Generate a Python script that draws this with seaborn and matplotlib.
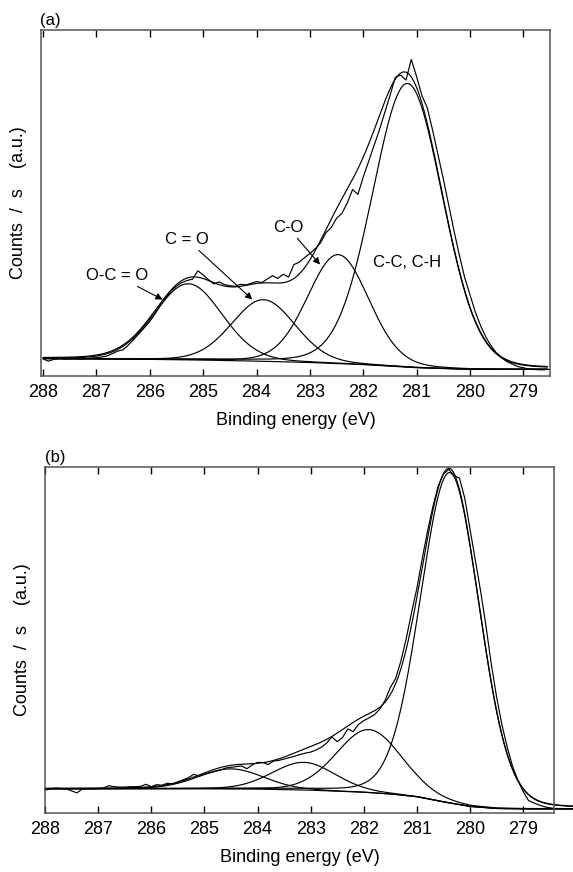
import numpy as np
import pandas as pd
import matplotlib
matplotlib.use("Agg")
import matplotlib.pyplot as plt
import seaborn as sns

sns.set_style("white")
plt.rcParams['font.family'] = ['Liberation Sans', 'DejaVu Sans']
plt.rcParams['text.color'] = 'black'
plt.rcParams['axes.labelcolor'] = 'black'
plt.rcParams['xtick.color'] = 'black'

# ---------------- data: panel (a) ----------------
raw_energy_a = np.round(np.arange(288.0, 278.55, -0.1), 2)
raw_counts_a = [
    4.9, 4.3, 4.8, 5.0, 4.9, 4.9, 5.0, 4.9, 5.0, 5.2,
    5.3, 5.5, 5.8, 6.5, 7.2, 7.6, 9.0, 10.6, 12.3, 14.0,
    15.8, 18.0, 20.4, 22.6, 24.6, 26.0, 27.0, 27.6, 28.0, 30.4,
    29.2, 27.8, 26.6, 27.2, 26.4, 26.1, 25.9, 26.5, 26.3, 26.8,
    27.3, 27.0, 28.0, 29.0, 28.2, 29.4, 28.6, 32.2, 32.9, 34.2,
    35.4, 36.8, 38.5, 41.4, 42.9, 45.6, 47.0, 50.0, 53.9, 52.5,
    57.5, 62.0, 66.5, 71.0, 76.0, 81.0, 86.3, 87.0, 85.5, 91.5,
    86.5, 81.0, 77.5, 71.0, 64.0, 57.0, 49.5, 42.0, 35.0, 28.5,
    23.5, 18.5, 14.5, 11.2, 8.6, 6.6, 5.2, 4.1, 3.4, 2.7,
    2.4, 2.0, 1.9, 1.8, 1.8,
]
bg_energy_a = [288.0, 287.0, 286.0, 285.0, 284.0, 283.0, 282.0, 281.0, 280.0, 279.0, 278.5]
bg_counts_a = [5.0, 4.9, 4.8, 4.6, 4.3, 3.9, 3.3, 2.4, 1.9, 1.9, 1.9]
peak_labels_a = ["O-C = O", "C = O", "C-O", "C-C, C-H"]
peak_centers_a = [285.28, 283.87, 282.47, 281.17]
peak_heights_a = [22.0, 17.8, 31.5, 82.0]
peak_fwhm_a = [1.50, 1.40, 1.35, 1.55]

# ---------------- data: panel (b) ----------------
raw_energy_b = np.round(np.arange(288.0, 278.05, -0.1), 2)
raw_counts_b = [
    6.6, 7.0, 7.2, 7.1, 7.0, 6.4, 5.8, 6.9, 7.0, 7.0,
    7.1, 7.2, 7.9, 7.6, 7.5, 7.5, 7.6, 7.6, 7.7, 8.3,
    7.6, 8.2, 8.0, 8.6, 8.4, 9.0, 9.6, 10.2, 11.2, 10.6,
    11.2, 11.6, 12.0, 12.4, 13.0, 13.2, 13.4, 13.6, 12.8, 13.9,
    14.6, 14.6, 14.0, 15.0, 15.2, 15.6, 16.0, 16.4, 16.9, 17.3,
    17.6, 18.2, 19.0, 20.2, 22.0, 20.6, 21.8, 24.3, 23.5, 25.6,
    26.7, 27.5, 28.4, 30.0, 32.5, 36.3, 38.9, 44.0, 50.5, 58.0,
    65.0, 73.5, 81.5, 88.5, 94.5, 98.0, 99.3, 97.5, 96.8, 91.0,
    82.0, 73.0, 64.0, 54.0, 43.0, 33.5, 25.5, 19.0, 13.5, 9.5,
    6.2, 3.6, 2.9, 2.3, 1.8, 1.5, 1.3, 1.3, 1.25, 1.25,
]
bg_energy_b = [288.0, 287.0, 286.0, 285.0, 284.0, 283.0, 282.0, 281.5, 281.0, 280.5, 280.0, 279.5, 279.0, 278.0]
bg_counts_b = [7.0, 7.0, 7.0, 7.0, 6.9, 6.6, 6.0, 5.5, 4.7, 3.2, 1.9, 1.3, 1.2, 1.2]
peak_centers_b = [284.50, 283.13, 281.90, 280.38]
peak_heights_b = [5.8, 8.0, 18.2, 95.5]
peak_fwhm_b = [1.45, 1.40, 1.45, 1.31]

xticks = [288, 287, 286, 285, 284, 283, 282, 281, 280, 279]
GL_MIX = 0.1


def gl(x, c, h, w):
    g = np.exp(-4 * np.log(2) * ((x - c) / w) ** 2)
    l = 1.0 / (1.0 + 4 * ((x - c) / w) ** 2)
    return h * ((1 - GL_MIX) * g + GL_MIX * l)


def draw_panel(ax, e_raw, y_raw, bg_e, bg_y, cen, hts, fw, e_min, clip):
    grid = np.linspace(288.0, e_min, 500)
    bg = np.interp(grid, bg_e[::-1], bg_y[::-1])
    kw = dict(ax=ax, color="black", linewidth=0.85, estimator=None, sort=False,
              clip_on=clip, legend=False)
    sns.lineplot(x=bg_e, y=bg_y, **kw)
    total = bg.copy()
    for c, h, w in zip(cen, hts, fw):
        comp = gl(grid, c, h, w)
        total = total + comp
        sns.lineplot(x=grid, y=bg + comp, **kw)
    sns.lineplot(x=grid, y=total, **kw)
    sns.lineplot(x=e_raw, y=y_raw, **kw)


fig = plt.figure(figsize=(5.73, 8.72), dpi=100)
ax_a = fig.add_axes([41 / 573, 1 - 376 / 872, 509 / 573, 346 / 872])
ax_b = fig.add_axes([45 / 573, 1 - 813 / 872, 509 / 573, 346 / 872])

draw_panel(ax_a, raw_energy_a, raw_counts_a, bg_energy_a, bg_counts_a,
           peak_centers_a, peak_heights_a, peak_fwhm_a, 278.55, True)
draw_panel(ax_b, raw_energy_b, raw_counts_b, bg_energy_b, bg_counts_b,
           peak_centers_b, peak_heights_b, peak_fwhm_b, 278.05, False)

ax_a.set_xlim(288.04, 278.5)
ax_b.set_xlim(287.97, 278.42)
for ax in (ax_a, ax_b):
    ax.set_ylim(0, 100)
    ax.set_yticks([])
    ax.set_xticks(xticks)
    ax.set_xticklabels([str(t) for t in xticks])
    ax.tick_params(axis="x", direction="in", top=True, bottom=True, length=5,
                   width=1, pad=6, labelsize=13, colors="black")
    for s in ax.spines.values():
        s.set_color("#555555")
        s.set_linewidth(1.1)
        s.set_visible(True)
    ax.set_xlabel("Binding energy (eV)", fontsize=13, labelpad=8)
    ax.set_ylabel("Counts  /  s    (a.u.)", fontsize=13, labelpad=10)

fig.text(40 / 573, 1 - 25 / 872, "(a)", fontsize=12, ha="left", va="baseline")
fig.text(45 / 573, 1 - 462 / 872, "(b)", fontsize=12, ha="left", va="baseline")

arrow = dict(arrowstyle="-|>", color="black", lw=0.8, mutation_scale=10,
             shrinkA=0, shrinkB=0)
ax_a.annotate(peak_labels_a[0], xy=(285.76, 22.1), xytext=(286.62, 29.0),
              ha="center", va="center", fontsize=12, arrowprops=arrow)
ax_a.annotate(peak_labels_a[1], xy=(284.08, 22.1), xytext=(285.30, 39.4),
              ha="center", va="center", fontsize=12, arrowprops=arrow)
ax_a.annotate(peak_labels_a[2], xy=(282.81, 32.2), xytext=(283.41, 42.9),
              ha="center", va="center", fontsize=12, arrowprops=arrow)
ax_a.text(281.17, 32.7, peak_labels_a[3], ha="center", va="center", fontsize=12)

fig.savefig("out.png", dpi=100)
